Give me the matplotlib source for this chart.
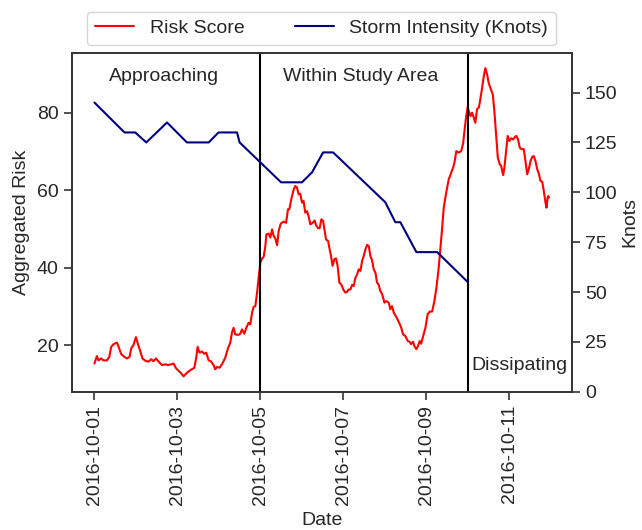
import pandas as pd
import matplotlib
matplotlib.use('Agg')
import matplotlib.pyplot as plt
import matplotlib.dates as mdates
from matplotlib.ticker import MultipleLocator
import seaborn as sns

sns.set_style('ticks')
plt.rcParams['font.family'] = ['Liberation Sans', 'DejaVu Sans']

start = pd.Timestamp('2016-10-01 00:00')

# aggregated risk score, hours since start
risk_hours = [0, 1.4, 2.4, 3.9, 5.3, 7.2, 8.6, 9.7, 11.1, 13.0, 14.0, 15.5, 17.4, 18.8,
              20.3, 21.3, 22.6, 24.0, 25.2, 26.5, 27.8, 29.8, 31.3, 32.9, 34.2, 35.6,
              37.1, 39.1, 41.0, 42.5, 44.5, 45.8, 47.2, 48.7, 49.7, 51.6, 53.5, 55.5,
              57.8, 58.9, 59.7, 60.8, 62.2, 63.6, 64.7, 66.1, 67.4, 68.9, 69.9, 70.9,
              72.4, 73.8, 75.7, 77.1, 78.6, 79.6, 80.5, 81.5, 83.4, 84.4, 85.4, 86.7,
              87.9, 89.2, 90.2, 91.2, 92.1, 93.1, 94.1, 95.0, 96.0, 97.0, 97.9, 98.9,
              99.5, 100.8, 101.8, 102.8, 103.7, 104.7, 105.7, 106.6, 107.8, 109.5,
              110.9, 112.0, 112.8, 113.9, 115.3, 116.2, 117.2, 118.2, 119.1, 120.1,
              121.0, 122.0, 123.0, 123.9, 124.9, 126.3, 127.4, 128.2, 129.4, 130.3,
              131.3, 132.3, 133.2, 134.0, 135.2, 135.9, 136.9, 137.8, 138.8, 139.8,
              140.7, 141.7, 142.9, 144.2, 145.2, 146.2, 147.1, 148.1, 149.1, 150.0,
              151.0, 152.0, 152.9, 153.9, 154.9, 155.8, 156.8, 157.8, 158.7, 159.7,
              160.6, 161.6, 162.6, 163.5, 164.5, 165.4, 166.4, 167.8, 168.9, 170.3,
              171.2, 172.2, 173.2, 174.7, 176.0, 177.4, 178.6, 179.9, 181.3, 182.4,
              183.2, 184.4, 185.1, 186.3, 187.0, 188.2, 189.0, 190.2, 191.5, 192.8,
              194.0, 195.4, 196.7, 197.9, 199.2, 200.2, 201.2, 202.1, 203.7, 205.0,
              206.4, 207.5, 208.3, 209.4, 210.8, 212.2, 213.3, 214.1, 215.1, 216.0,
              216.6, 217.6, 218.5, 219.5, 220.4, 221.4, 222.4, 223.3, 224.3, 225.3,
              226.2, 227.2, 228.1, 229.1, 230.5, 231.4, 232.4, 233.4, 234.5, 235.3,
              236.5, 237.2, 238.2, 239.1, 240.1, 241.1, 242.3, 243.2, 244.2, 245.2,
              246.1, 247.1, 248.4, 249.4, 250.4, 251.3, 252.3, 253.3, 254.2, 255.2,
              256.2, 257.1, 258.1, 259.1, 260.0, 261.0, 261.6, 262.2, 262.6, 263.0]
risk_score = [15.3, 17.2, 16.1, 16.6, 16.1, 16.1, 17.0, 19.6, 20.3, 20.7, 19.6, 17.7, 17.0, 16.6,
              17.0, 19.2, 20.1, 22.1, 20.3, 18.5, 16.6, 15.9, 15.8, 16.4, 15.9, 16.6,
              15.8, 14.9, 15.1, 14.9, 15.1, 15.3, 14.1, 13.4, 13.0, 12.0, 12.9, 13.6,
              14.2, 16.8, 19.6, 18.1, 18.4, 17.8, 18.1, 16.1, 15.9, 14.9, 13.8, 14.4,
              14.2, 15.1, 16.8, 19.0, 20.7, 23.3, 24.5, 22.8, 22.7, 23.0, 24.1, 23.0,
              24.5, 25.8, 25.4, 28.4, 29.9, 30.1, 33.6, 37.4, 41.3, 42.4, 42.8, 45.6,
              48.6, 48.8, 47.8, 49.9, 48.2, 47.5, 45.8, 49.5, 51.4, 51.9,
              51.6, 55.1, 55.1, 57.7, 60.2, 61.1, 60.7, 58.9, 59.1, 56.8,
              57.2, 54.2, 54.6, 53.3, 51.2, 51.6, 52.2, 51.0, 50.2, 50.2,
              52.5, 52.1, 49.5, 47.3, 46.9, 45.2, 43.0, 40.5, 42.2, 42.4,
              40.5, 36.2, 35.6, 34.2, 33.6, 33.8, 34.4, 34.4, 35.6, 35.3,
              37.4, 38.3, 39.6, 39.2, 41.8, 43.0, 44.8, 45.9, 45.6, 43.0,
              42.0, 39.6, 38.7, 36.2, 35.6, 34.0, 33.3, 31.0, 31.4, 31.0,
              29.3, 30.1, 28.4, 27.3, 26.1, 24.7, 22.8, 22.4, 21.1, 20.9,
              20.3, 20.9, 19.8, 19.0, 19.6, 21.1, 20.4, 22.4, 24.5, 28.0,
              28.7, 28.7, 31.4, 34.9, 40.0, 45.2, 50.3, 55.5, 59.8, 62.8,
              64.5, 65.8, 67.1, 70.1, 69.7, 70.1, 72.0, 75.3, 79.1, 81.5,
              80.4, 79.1, 80.0, 78.7, 77.4, 80.9, 81.3, 83.5, 86.4, 89.5,
              91.5, 89.9, 87.7, 86.4, 84.7, 80.4, 74.4, 68.4, 66.7, 66.3,
              63.9, 65.8, 70.1, 74.0, 72.7, 73.4, 73.1, 73.7, 74.0, 72.9,
              71.0, 70.6, 70.6, 67.5, 64.1, 65.4, 67.5, 68.6, 68.8, 67.5,
              65.4, 64.3, 62.4, 62.2, 59.8, 56.8, 55.5, 58.1, 58.5, 58.1]

# storm intensity (knots), hours since start
storm_hours = [0, 17.4, 23.6, 30.0, 42.0, 53.5, 66.1, 71.8, 82.5, 84.0, 96.0, 108.0, 120.1,
               125.9, 132.3, 138.1, 168.3, 174.1, 177.0, 186.3, 198.3, 216.0]
storm_knots = [145, 130, 130, 125, 135, 125, 125, 130, 130, 125, 115, 105, 105,
               110, 120, 120, 95, 85, 85, 70, 70, 55]

phase_bounds = ['2016-10-05', '2016-10-10']
phase_labels = ['Approaching', 'Within Study Area', 'Dissipating']

risk_time = start + pd.to_timedelta(risk_hours, unit='h')
storm_time = start + pd.to_timedelta(storm_hours, unit='h')

fs = 14

fig = plt.figure(figsize=(6.42, 5.30), dpi=100)
ax = fig.add_axes([0.1117, 0.2609, 0.7788, 0.6397])
ax2 = ax.twinx()

l1, = ax.plot(risk_time, risk_score, color='red', lw=1.5, label='Risk Score')
l2, = ax2.plot(storm_time, storm_knots, color='navy', lw=1.5, label='Storm Intensity (Knots)')

for b in phase_bounds:
    ax.axvline(pd.Timestamp(b), color='black', lw=1.5)

ax.yaxis.set_major_locator(MultipleLocator(20))
ax2.set_ylim(0, 170)
ax2.set_yticks([0, 25, 50, 75, 100, 125, 150])

ax.xaxis.set_major_locator(mdates.DayLocator(bymonthday=[1, 3, 5, 7, 9, 11]))
ax.xaxis.set_major_formatter(mdates.DateFormatter('%Y-%m-%d'))
for lbl in ax.get_xticklabels():
    lbl.set_rotation(90)

for a in (ax, ax2):
    a.tick_params(labelsize=fs, length=6, width=1.2, color='.2', direction='out')
    for s in a.spines.values():
        s.set_color('.2')
        s.set_linewidth(1.2)
ax.set_xlabel('Date', fontsize=fs, labelpad=5)
ax.set_ylabel('Aggregated Risk', fontsize=fs, labelpad=5)
ax2.set_ylabel('Knots', fontsize=fs, labelpad=3)

tf = ax.get_xaxis_transform()
ax.text(pd.Timestamp('2016-10-02 16:00'), 0.93, phase_labels[0], transform=tf,
        ha='center', va='center', fontsize=fs)
ax.text(pd.Timestamp('2016-10-07 10:00'), 0.93, phase_labels[1], transform=tf,
        ha='center', va='center', fontsize=fs)
ax.text(pd.Timestamp('2016-10-11 06:00'), 0.076, phase_labels[2], transform=tf,
        ha='center', va='center', fontsize=fs)

ax.legend(handles=[l1, l2], loc='lower center', bbox_to_anchor=(0.5, 1.0),
          ncol=2, fontsize=fs, borderaxespad=0.4, columnspacing=2.6)

fig.savefig('out.png', dpi=100)
